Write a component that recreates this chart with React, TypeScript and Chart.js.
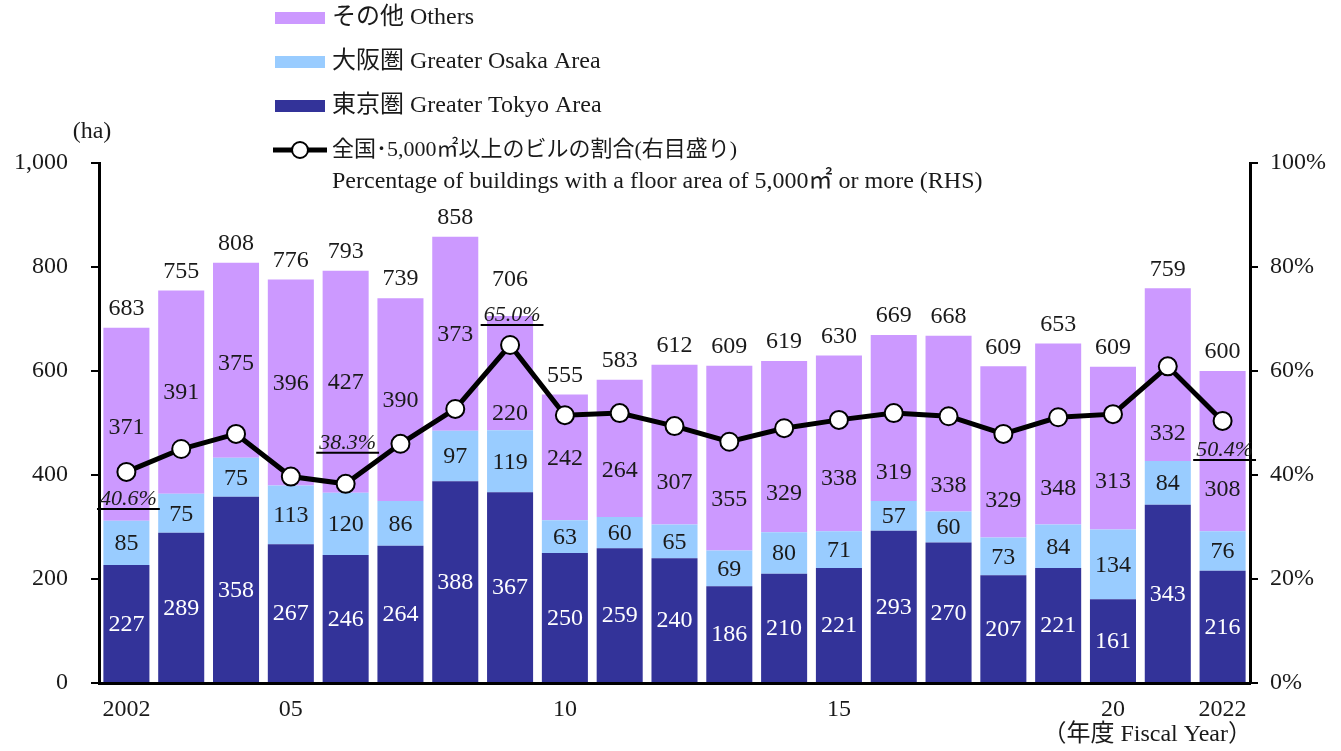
import React, { useEffect, useRef } from "react";
import { Chart, registerables } from "chart.js";

Chart.register(...registerables);

// ---------- data ----------
const years = [
  "2002", "2003", "2004", "2005", "2006", "2007", "2008", "2009", "2010", "2011", "2012",
  "2013", "2014", "2015", "2016", "2017", "2018", "2019", "2020", "2021", "2022",
];
const xTickLabels = [
  "2002", "", "", "05", "", "", "", "", "10", "", "",
  "", "", "15", "", "", "", "", "20", "", "2022",
];
const tokyo = [227, 289, 358, 267, 246, 264, 388, 367, 250, 259, 240, 186, 210, 221, 293, 270, 207, 221, 161, 343, 216];
const osaka = [85, 75, 75, 113, 120, 86, 97, 119, 63, 60, 65, 69, 80, 71, 57, 60, 73, 84, 134, 84, 76];
const others = [371, 391, 375, 396, 427, 390, 373, 220, 242, 264, 307, 355, 329, 338, 319, 338, 329, 348, 313, 332, 308];
const totals = [683, 755, 808, 776, 793, 739, 858, 706, 555, 583, 612, 609, 619, 630, 669, 668, 609, 653, 609, 759, 600];
const ratio = [40.6, 45.0, 47.9, 39.7, 38.3, 46.0, 52.7, 65.0, 51.5, 51.9, 49.4, 46.4, 49.0, 50.6, 51.9, 51.3, 47.9, 51.1, 51.7, 60.9, 50.4];
const ratioLabelIndices = [0, 4, 7, 20];
const leftTicks = [0, 200, 400, 600, 800, 1000];
const rightTicks = [0, 20, 40, 60, 80, 100];

const seriesNames = ["東京圏 Greater Tokyo Area", "大阪圏 Greater Osaka Area", "その他 Others"];
const lineName1 = "全国･5,000㎡以上のビルの割合(右目盛り)";
const lineName2 = "Percentage of buildings with a floor area of 5,000㎡ or more (RHS)";
const yTitle = "(ha)";
const xTitle = "（年度 Fiscal Year）";

// ---------- style ----------
const FAM = '"Liberation Serif", "Noto Sans CJK JP", serif';
const font = (s: number, st = "") => `${st}${s}px ${FAM}`;
const COLORS = ["#333399", "#99CCFF", "#CC99FF"];
const LABEL_COLORS = ["#ffffff", "#1a1a1a", "#1a1a1a"];
// label placement tweaks (pixels) to keep labels clear of the line
const othersLabelShift = [2, 0, 2, 0, 0, 0, 0, 40, 0, 21, 37, 41, 46, 34, 54, 61, 48, 54, 32, 58, 38];
const totalLabelDy: Record<number, number> = { 7: -36 };
const ratioLabelDy: Record<number, number> = { 0: 27, 4: -41, 7: -30, 20: 29 };

const labelsPlugin = {
  id: "customLabels",
  afterDatasetDraw(chart: any, args: any) {
    if (args.index !== 0) return;
    const ctx = chart.ctx;
    ctx.save();
    ctx.textAlign = "center";
    ctx.textBaseline = "middle";
    ctx.font = font(24);
    for (let di = 0; di < 3; di++) {
      const meta = chart.getDatasetMeta(di);
      meta.data.forEach((el: any, i: number) => {
        const p = el.getProps(["x", "y", "base"], true);
        const shift = di === 2 ? othersLabelShift[i] : 0;
        ctx.fillStyle = LABEL_COLORS[di];
        ctx.fillText(String(chart.data.datasets[di].data[i]), p.x, (p.y + p.base) / 2 + 1 + shift);
      });
    }
    const topMeta = chart.getDatasetMeta(2);
    topMeta.data.forEach((el: any, i: number) => {
      ctx.fillStyle = "#1a1a1a";
      ctx.fillText(String(totals[i]), el.x, el.y + (totalLabelDy[i] ?? -19));
    });
    ctx.restore();
  },
  afterDatasetsDraw(chart: any) {
    const ctx = chart.ctx;
    ctx.save();
    ctx.textAlign = "center";
    ctx.textBaseline = "middle";
    ctx.font = font(22, "italic ");
    const lm = chart.getDatasetMeta(3);
    ratioLabelIndices.forEach((i) => {
      const el = lm.data[i];
      const text = ratio[i].toFixed(1) + "%";
      const ty = el.y + (ratioLabelDy[i] ?? -30);
      const cx = el.x + 2;
      ctx.fillStyle = "#1a1a1a";
      ctx.fillText(text, cx, ty);
      const w = ctx.measureText(text).width;
      ctx.strokeStyle = "#000";
      ctx.lineWidth = 2;
      ctx.beginPath();
      ctx.moveTo(cx - w / 2 - 3, ty + 10);
      ctx.lineTo(cx + w / 2 + 3, ty + 10);
      ctx.stroke();
    });
    ctx.restore();
  },
  afterDraw(chart: any) {
    const ctx = chart.ctx;
    ctx.save();
    ctx.textBaseline = "middle";
    ctx.font = font(24);
    // legend (bars)
    const order = [2, 1, 0];
    order.forEach((di, k) => {
      const cy = 18 + k * 44;
      ctx.fillStyle = COLORS[di];
      ctx.fillRect(275, cy - 6, 50, 12);
      ctx.fillStyle = "#1a1a1a";
      ctx.textAlign = "left";
      ctx.fillText(seriesNames[di], 332, cy);
    });
    // legend (line)
    const ly = 150;
    ctx.strokeStyle = "#000";
    ctx.lineWidth = 5;
    ctx.beginPath();
    ctx.moveTo(273, ly);
    ctx.lineTo(327, ly);
    ctx.stroke();
    ctx.beginPath();
    ctx.arc(300, ly, 8, 0, Math.PI * 2);
    ctx.fillStyle = "#fff";
    ctx.fill();
    ctx.lineWidth = 2;
    ctx.stroke();
    ctx.fillStyle = "#1a1a1a";
    ctx.font = font(22);
    ctx.fillText(lineName1, 332, ly);
    ctx.font = font(24);
    ctx.fillText(lineName2, 332, 182);
    // axis titles
    ctx.textAlign = "center";
    ctx.fillText(yTitle, 92, 132);
    ctx.textAlign = "right";
    ctx.fillText(xTitle, 1252, 735);
    ctx.restore();
  },
};

export default function App() {
  const ref = useRef<HTMLCanvasElement | null>(null);
  useEffect(() => {
    if (!ref.current) return;
    const tickFont = { family: FAM, size: 24 };
    const chart = new Chart(ref.current, {
      type: "bar",
      data: {
        labels: years,
        datasets: [
          { type: "bar", label: seriesNames[0], data: tokyo, backgroundColor: COLORS[0], stack: "s", order: 2, yAxisID: "y" },
          { type: "bar", label: seriesNames[1], data: osaka, backgroundColor: COLORS[1], stack: "s", order: 2, yAxisID: "y" },
          { type: "bar", label: seriesNames[2], data: others, backgroundColor: COLORS[2], stack: "s", order: 2, yAxisID: "y" },
          {
            type: "line",
            label: lineName1,
            data: ratio,
            yAxisID: "y1",
            order: 1,
            borderColor: "#000",
            borderWidth: 5,
            pointRadius: 9,
            pointBorderWidth: 2,
            pointBackgroundColor: "#fff",
            pointBorderColor: "#000",
            tension: 0,
          } as any,
        ],
      },
      options: {
        responsive: false,
        animation: false,
        layout: { padding: { top: 163, left: 0, right: 0, bottom: 0 } },
        datasets: { bar: { categoryPercentage: 1, barPercentage: 0.84 } },
        plugins: { legend: { display: false }, tooltip: { enabled: false } },
        scales: {
          x: {
            stacked: true,
            grid: { drawOnChartArea: false, drawTicks: false },
            border: { display: true, color: "#000", width: 3 },
            ticks: {
              autoSkip: false,
              maxRotation: 0,
              padding: 12,
              color: "#1a1a1a",
              font: tickFont,
              callback: (_v: any, i: number) => xTickLabels[i],
            },
            afterFit: (s: any) => { s.height = 68; },
          },
          y: {
            stacked: true,
            position: "left",
            min: 0,
            max: 1000,
            afterBuildTicks: (s: any) => { s.ticks = leftTicks.map((v) => ({ value: v })); },
            grid: { drawOnChartArea: false, drawTicks: true, tickLength: 8, color: "#000", lineWidth: 2 },
            border: { display: true, color: "#000", width: 3 },
            ticks: {
              padding: 23,
              color: "#1a1a1a",
              font: tickFont,
              callback: (v: any) => Number(v).toLocaleString("en-US"),
            },
            afterFit: (s: any) => { s.width = 99; },
          },
          y1: {
            position: "right",
            min: 0,
            max: 100,
            afterBuildTicks: (s: any) => { s.ticks = rightTicks.map((v) => ({ value: v })); },
            grid: { drawOnChartArea: false, drawTicks: true, tickLength: 8, color: "#000", lineWidth: 2 },
            border: { display: true, color: "#000", width: 3 },
            ticks: {
              padding: 12,
              color: "#1a1a1a",
              font: tickFont,
              callback: (v: any) => `${v}%`,
            },
            afterFit: (s: any) => { s.width = 91; },
          },
        },
      } as any,
      plugins: [labelsPlugin],
    });
    return () => chart.destroy();
  }, []);
  return (
    <div style={{ position: "fixed", left: 0, top: 0, width: 1341, height: 751, background: "#fff" }}>
      <canvas ref={ref} width={1341} height={751} style={{ display: "block" }} />
    </div>
  );
}
